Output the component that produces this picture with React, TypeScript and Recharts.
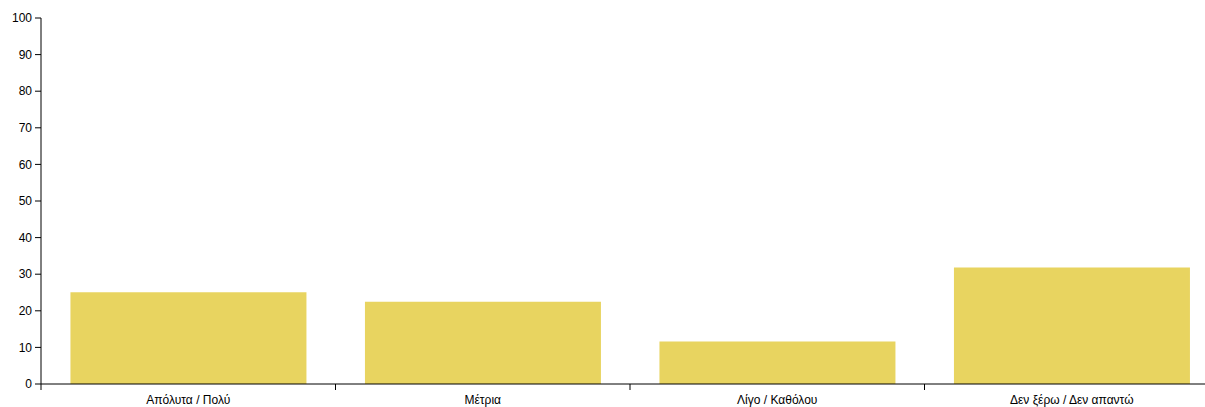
import { BarChart, Bar, XAxis, YAxis } from "recharts";

const categories = [
  "Απόλυτα / Πολύ",
  "Μέτρια",
  "Λίγο / Καθόλου",
  "Δεν ξέρω / Δεν απαντώ",
];
const values = [25.1, 22.5, 11.6, 31.8];
const yTicks = [0, 10, 20, 30, 40, 50, 60, 70, 80, 90, 100];

const rows = categories.map((name, i) => ({ name, value: values[i] }));

const CHART_W = 1219;
const CHART_H = 407;
const MARGIN = { top: 18, right: 0, bottom: 0, left: 8 };
const Y_W = 33;
const HALF_BAND = (CHART_W - MARGIN.left - Y_W - MARGIN.right) / categories.length / 2;
const FONT = "'Liberation Sans', Arial, sans-serif";

function BandTick(props: any) {
  const { x, y, payload } = props;
  return (
    <g>
      <line x1={x - HALF_BAND} x2={x - HALF_BAND} y1={y} y2={y + 6} stroke="#000" />
      <text
        x={x}
        y={y + 11}
        dy="0.71em"
        textAnchor="middle"
        fontSize={12}
        fontFamily={FONT}
        fill="#000"
      >
        {payload.value}
      </text>
    </g>
  );
}

export default function App() {
  return (
    <div
      style={{
        position: "absolute",
        left: 0,
        top: 0,
        width: 1205,
        height: 407,
        overflow: "hidden",
        background: "#fff",
      }}
    >
      <BarChart
        width={CHART_W}
        height={CHART_H}
        data={rows}
        margin={MARGIN}
        barCategoryGap="10%"
      >
        <XAxis
          dataKey="name"
          height={23}
          tickSize={0}
          tickMargin={0}
          tickLine={false}
          axisLine={{ stroke: "#000" }}
          tick={<BandTick />}
          interval={0}
        />
        <YAxis
          width={Y_W}
          domain={[0, 100]}
          ticks={yTicks}
          interval={0}
          tickSize={6}
          tickMargin={3}
          axisLine={{ stroke: "#000" }}
          tickLine={{ stroke: "#000" }}
          tick={{ fontSize: 12, fill: "#000", fontFamily: FONT }}
        />
        <Bar dataKey="value" fill="#e8d460" isAnimationActive={false} />
      </BarChart>
    </div>
  );
}
